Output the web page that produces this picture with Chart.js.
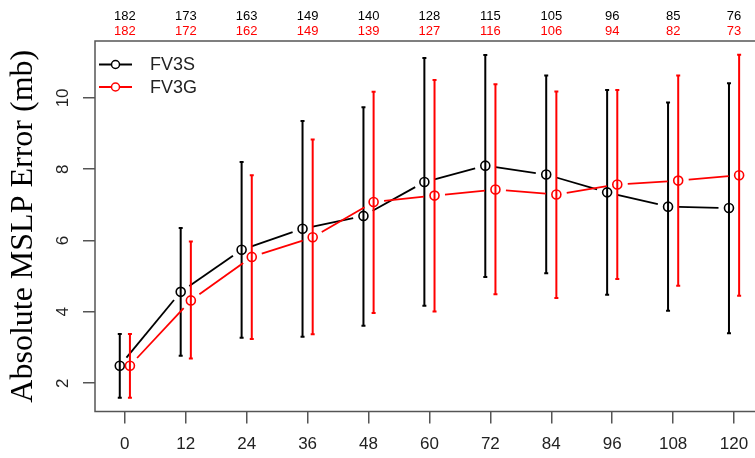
<!DOCTYPE html>
<html>
<head>
<meta charset="utf-8">
<script src="https://cdn.jsdelivr.net/npm/chart.js@4.4.1/dist/chart.umd.min.js"></script>
<style>
  html, body { margin: 0; padding: 0; background: #fff; overflow: hidden; }
  #wrap { width: 770px; height: 458px; }
</style>
</head>
<body>
<div id="wrap"><canvas id="mslp_error" width="770" height="458"></canvas></div>
<script>
// forecast lead time (h)
const leadTimes = [0, 12, 24, 36, 48, 60, 72, 84, 96, 108, 120];

// FV3S
const fv3sMean = [2.49, 4.56, 5.74, 6.33, 6.69, 7.64, 8.10, 7.85, 7.35, 6.95, 6.91];
const fv3sLow = [1.59, 2.77, 3.27, 3.30, 3.61, 4.17, 4.98, 5.08, 4.48, 4.03, 3.40];
const fv3sHigh = [3.38, 6.35, 8.20, 9.35, 9.74, 11.12, 11.20, 10.63, 10.22, 9.87, 10.41];
const fv3sCount = [182, 173, 163, 149, 140, 128, 115, 105, 96, 85, 76];

// FV3G
const fv3gMean = [2.49, 4.32, 5.54, 6.09, 7.08, 7.26, 7.43, 7.29, 7.57, 7.68, 7.83];
const fv3gLow = [1.59, 2.69, 3.24, 3.37, 3.97, 4.01, 4.49, 4.39, 4.92, 4.73, 4.45];
const fv3gHigh = [3.38, 5.97, 7.83, 8.83, 10.17, 10.50, 10.38, 10.18, 10.22, 10.63, 11.21];
const fv3gCount = [182, 172, 162, 149, 139, 127, 116, 106, 94, 82, 73];

const yTickStep = 2;
const xTickStep = 12;

const series = [
  { label: "FV3S", color: "#000000", shift: -1, mean: fv3sMean, low: fv3sLow, high: fv3sHigh, count: fv3sCount },
  { label: "FV3G", color: "#ff0000", shift: 1, mean: fv3gMean, low: fv3gLow, high: fv3gHigh, count: fv3gCount },
];

const ctx = document.getElementById("mslp_error").getContext("2d");

// error bars + broken connecting lines (like R type="b")
const errorBarPlugin = {
  id: "errorBarPlugin",
  beforeDatasetsDraw(chart) {
    const c = chart.ctx;
    const xs = chart.scales.x;
    const ys = chart.scales.y;
    const gap = 10.5;
    c.save();
    series.forEach(function (s) {
      c.strokeStyle = s.color;
      c.lineWidth = 2;
      c.lineCap = "butt";
      leadTimes.forEach(function (t, i) {
        const px = xs.getPixelForValue(t + s.shift);
        const top = ys.getPixelForValue(s.high[i]);
        const bot = ys.getPixelForValue(s.low[i]);
        c.beginPath();
        c.moveTo(px, top);
        c.lineTo(px, bot);
        c.moveTo(px - 2, top);
        c.lineTo(px + 2, top);
        c.moveTo(px - 2, bot);
        c.lineTo(px + 2, bot);
        c.stroke();
      });
      c.lineWidth = 1.8;
      for (let i = 0; i < leadTimes.length - 1; i++) {
        const x1 = xs.getPixelForValue(leadTimes[i] + s.shift);
        const y1 = ys.getPixelForValue(s.mean[i]);
        const x2 = xs.getPixelForValue(leadTimes[i + 1] + s.shift);
        const y2 = ys.getPixelForValue(s.mean[i + 1]);
        const d = Math.hypot(x2 - x1, y2 - y1);
        if (d <= gap * 2) continue;
        const ux = (x2 - x1) / d, uy = (y2 - y1) / d;
        c.beginPath();
        c.moveTo(x1 + ux * gap, y1 + uy * gap);
        c.lineTo(x2 - ux * gap, y2 - uy * gap);
        c.stroke();
      }
    });
    c.restore();
  },
  afterDraw(chart) {
    const c = chart.ctx;
    const a = chart.chartArea;
    const xs = chart.scales.x;
    c.save();
    // plot box
    c.strokeStyle = "#555";
    c.lineWidth = 1.5;
    c.strokeRect(a.left, a.top, a.right - a.left, a.bottom - a.top);

    // sample sizes above the plot
    c.font = "13px 'Liberation Sans', Arial, sans-serif";
    c.textAlign = "center";
    c.textBaseline = "middle";
    leadTimes.forEach(function (t, i) {
      const px = xs.getPixelForValue(t);
      c.fillStyle = "#000";
      c.fillText(String(fv3sCount[i]), px, 16);
      c.fillStyle = "#ff0000";
      c.fillText(String(fv3gCount[i]), px, 31);
    });

    // legend
    c.font = "18px 'Liberation Sans', Arial, sans-serif";
    c.textAlign = "left";
    series.forEach(function (s, k) {
      const ly = 64.5 + k * 22.5;
      c.strokeStyle = s.color;
      c.lineWidth = 1.8;
      c.beginPath();
      c.moveTo(99, ly);
      c.lineTo(132, ly);
      c.stroke();
      c.beginPath();
      c.fillStyle = "#fff";
      c.lineWidth = 1.5;
      c.arc(115.5, ly, 4, 0, Math.PI * 2);
      c.fill();
      c.stroke();
      c.fillStyle = "#222";
      c.fillText(s.label, 150, ly + 1);
    });
    c.restore();
  },
};

const chart = new Chart(ctx, {
  type: "scatter",
  data: {
    datasets: series.map(function (s, k) {
      return {
        label: s.label,
        data: leadTimes.map(function (t, i) {
          return { x: t + s.shift, y: s.mean[i] };
        }),
        showLine: false,
        borderColor: s.color,
        backgroundColor: "rgba(0,0,0,0)",
        pointRadius: 4.5,
        pointBorderWidth: 1.6,
        pointHoverRadius: 4.5,
        order: series.length - k,
      };
    }),
  },
  plugins: [errorBarPlugin],
  options: {
    responsive: false,
    animation: false,
    layout: {
      padding: { top: 41, right: 6, left: 0, bottom: 0 },
    },
    plugins: {
      legend: { display: false },
      tooltip: { enabled: false },
      title: { display: false },
    },
    scales: {
      x: {
        type: "linear",
        min: -5.88,
        max: 125.88,
        afterFit: function (scale) {
          scale.height = 46.5;
        },
        border: { display: false },
        grid: {
          drawOnChartArea: false,
          drawTicks: true,
          tickLength: 12,
          tickColor: "#555",
          lineWidth: 1.5,
        },
        ticks: {
          stepSize: xTickStep,
          includeBounds: false,
          maxRotation: 0,
          autoSkip: false,
          padding: 11,
          color: "#222",
          font: { family: "'Liberation Sans', Arial, sans-serif", size: 17 },
        },
      },
      y: {
        type: "linear",
        min: 1.205,
        max: 11.595,
        afterFit: function (scale) {
          scale.width = 95;
        },
        border: { display: false },
        grid: {
          drawOnChartArea: false,
          drawTicks: true,
          tickLength: 12,
          tickColor: "#555",
          lineWidth: 1.5,
        },
        ticks: {
          stepSize: yTickStep,
          includeBounds: false,
          minRotation: 90,
          maxRotation: 90,
          crossAlign: "center",
          padding: 10,
          color: "#222",
          font: { family: "'Liberation Sans', Arial, sans-serif", size: 17 },
        },
        title: {
          display: true,
          text: "Absolute MSLP Error (mb)",
          color: "#000",
          padding: { top: 4, bottom: 0 },
          font: { family: "'Liberation Serif', 'Times New Roman', serif", size: 32, weight: "normal" },
        },
      },
    },
  },
});
</script>
</body>
</html>
